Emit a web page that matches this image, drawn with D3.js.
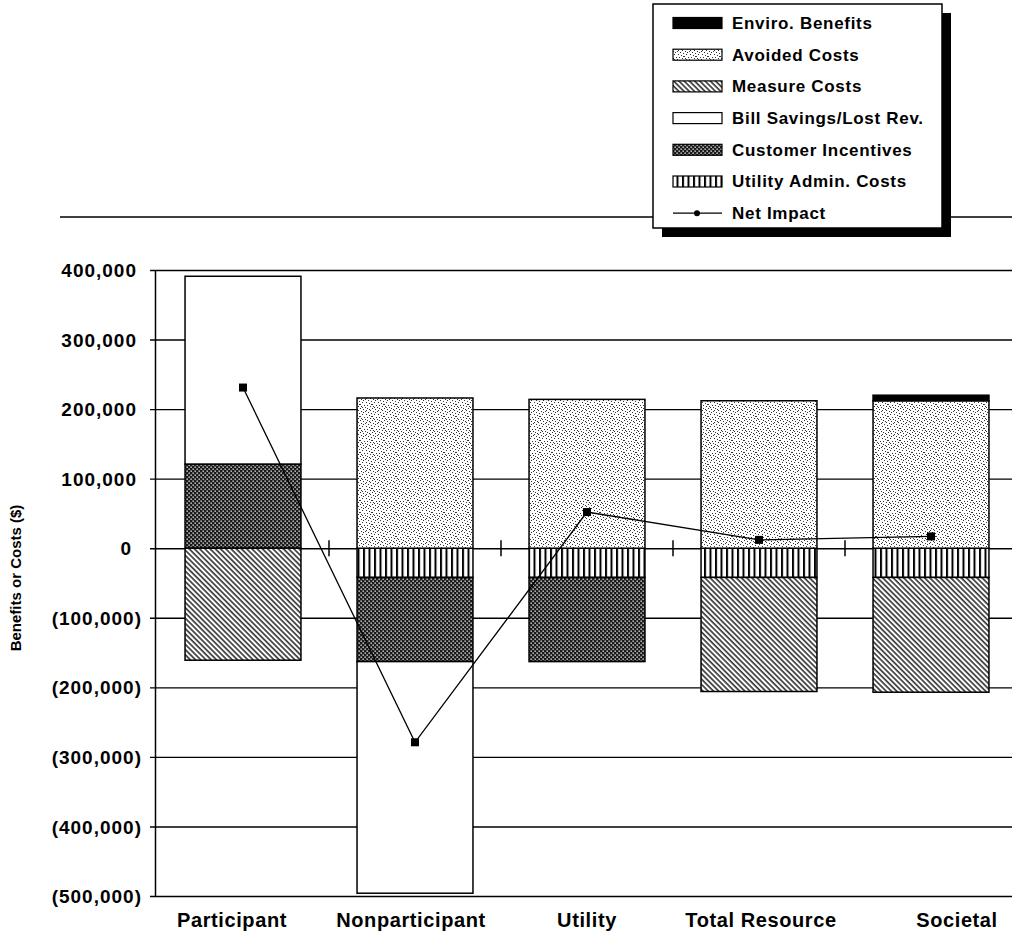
<!DOCTYPE html>
<html>
<head>
<meta charset="utf-8">
<script src="https://cdn.jsdelivr.net/npm/d3@7"></script>
<style>
  body { margin: 0; background: #fff; }
  svg { display: block; }
  text { font-family: "Liberation Sans", Arial, Helvetica, sans-serif; fill: #000; }
</style>
</head>
<body>
<svg id="chart" width="1012" height="941"></svg>
<script>
// ---- data: benefits positive, costs negative (dollars) ----
const categories = ["Participant", "Nonparticipant", "Utility", "Total Resource", "Societal"];
const enviroBenefits     = [0, 0, 0, 0, 8000];
const avoidedCosts       = [0, 216000, 214000, 212000, 212000];
const measureCosts       = [-161000, 0, 0, -164000, -165000];
const billSavings        = [270000, -333000, 0, 0, 0];
const customerIncentives = [121000, -121000, -121000, 0, 0];
const utilityAdminCosts  = [0, -42000, -42000, -42000, -42000];
const netImpact          = [231000, -279000, 52000, 12000, 17000];
const yTickValues = [400000, 300000, 200000, 100000, 0, -100000, -200000, -300000, -400000, -500000];

const seriesKeys   = ["admin", "incent", "measure", "bill", "avoided", "enviro"];
const legendOrder  = ["enviro", "avoided", "measure", "bill", "incent", "admin"];
const seriesLabels = {
  enviro: "Enviro. Benefits",
  avoided: "Avoided Costs",
  measure: "Measure Costs",
  bill: "Bill Savings/Lost Rev.",
  incent: "Customer Incentives",
  admin: "Utility Admin. Costs"
};

const table = categories.map((c, i) => ({
  category: c,
  admin: utilityAdminCosts[i],
  incent: customerIncentives[i],
  measure: measureCosts[i],
  bill: billSavings[i],
  avoided: avoidedCosts[i],
  enviro: enviroBenefits[i]
}));

const svg = d3.select("#chart");
const defs = svg.append("defs");

// ---- fill patterns ----
// stipple for avoided costs
const stipple = defs.append("pattern").attr("id", "p-avoided")
  .attr("patternUnits", "userSpaceOnUse").attr("width", 12).attr("height", 12);
stipple.append("rect").attr("width", 12).attr("height", 12).attr("fill", "#fff");
const dots = [[0,0],[3,1],[7,0],[10,2],[1,3],[5,3],[8,4],[11,5],[2,6],[6,6],[9,7],
              [0,8],[4,9],[7,9],[10,10],[2,11],[5,11],[3,4],[9,1],[6,2],[1,10],[11,8]];
dots.forEach(([dx, dy]) => stipple.append("rect")
  .attr("x", dx).attr("y", dy).attr("width", 1).attr("height", 1).attr("fill", "#333"));

// diagonal hatch for measure costs
const hatch = defs.append("pattern").attr("id", "p-measure")
  .attr("patternUnits", "userSpaceOnUse").attr("width", 3.7).attr("height", 10)
  .attr("patternTransform", "rotate(-45)");
hatch.append("rect").attr("width", 3.7).attr("height", 10).attr("fill", "#fff");
hatch.append("line").attr("x1", 1).attr("x2", 1).attr("y1", 0).attr("y2", 10)
  .attr("stroke", "#000").attr("stroke-width", 1.3);

// dense check for customer incentives
const check = defs.append("pattern").attr("id", "p-incent")
  .attr("patternUnits", "userSpaceOnUse").attr("width", 4).attr("height", 4);
check.append("rect").attr("width", 4).attr("height", 4).attr("fill", "#1a1a1a");
check.append("rect").attr("x", 0.5).attr("y", 0.5).attr("width", 1.3).attr("height", 1.3).attr("fill", "#fff");
check.append("rect").attr("x", 2.5).attr("y", 2.5).attr("width", 1.3).attr("height", 1.3).attr("fill", "#fff");

// vertical stripes for utility admin costs
const stripes = defs.append("pattern").attr("id", "p-admin")
  .attr("patternUnits", "userSpaceOnUse").attr("width", 5.5).attr("height", 10);
stripes.append("rect").attr("width", 5.5).attr("height", 10).attr("fill", "#fff");
stripes.append("rect").attr("x", 0).attr("width", 2).attr("height", 10).attr("fill", "#000");

const fills = {
  enviro: "#000",
  avoided: "url(#p-avoided)",
  measure: "url(#p-measure)",
  bill: "#fff",
  incent: "url(#p-incent)",
  admin: "url(#p-admin)"
};

// ---- scales ----
const x = d3.scaleBand().domain(categories).range([157, 1017])
  .paddingInner(0.326).paddingOuter(0.163);
const y = d3.scaleLinear().domain([-500000, 400000]).range([896, 270]);
const axisX = 155, rightEdge = 1012;

// decorative top rule
svg.append("line").attr("x1", 60).attr("x2", rightEdge).attr("y1", 217).attr("y2", 217)
  .attr("stroke", "#000").attr("stroke-width", 1.5);

// ---- gridlines + y axis ----
const fmt = v => v === 0 ? "0" : (v < 0 ? "(" + d3.format(",")(-v) + ")" : d3.format(",")(v));
const yAxis = d3.axisLeft(y).tickValues(yTickValues).tickFormat(fmt)
  .tickSize(-(rightEdge - axisX)).tickSizeOuter(0).tickPadding(0);
const gy = svg.append("g").attr("transform", `translate(${axisX},0)`).call(yAxis);
gy.select(".domain").attr("stroke", "#000").attr("stroke-width", 1.5);
gy.selectAll(".tick line").attr("stroke", "#000").attr("stroke-width", 1.4).attr("x1", -5);
gy.selectAll(".tick text")
  .attr("x", d => d === 0 ? -23 : (d < 0 ? -13 : -18))
  .attr("dy", "0.35em")
  .style("font-size", "19px").style("font-weight", "bold").style("letter-spacing", "1px");

// ---- stacked bars ----
const stacked = d3.stack().keys(seriesKeys).offset(d3.stackOffsetDiverging)(table);
const barsG = svg.append("g");
stacked.forEach(layer => {
  barsG.selectAll(null)
    .data(layer.filter(d => d[1] - d[0] !== 0))
    .join("rect")
    .attr("x", d => x(d.data.category))
    .attr("width", x.bandwidth())
    .attr("y", d => y(Math.max(d[0], d[1])))
    .attr("height", d => Math.abs(y(d[0]) - y(d[1])))
    .attr("fill", fills[layer.key])
    .attr("stroke", "#000")
    .attr("stroke-width", 1.5);
});

// ---- x axis ticks on the zero line, between categories ----
const boundaries = categories.slice(1).map(c => x(c) - x.step() * x.paddingInner() / 2);
svg.append("g").selectAll("line").data(boundaries).join("line")
  .attr("x1", d => d).attr("x2", d => d)
  .attr("y1", y(0) - 8).attr("y2", y(0) + 8)
  .attr("stroke", "#000").attr("stroke-width", 1.5);

// category labels
const labelShift = [-11, -4, 0, 2, 26];
svg.append("g").selectAll("text").data(categories).join("text")
  .attr("x", (d, i) => x(d) + x.bandwidth() / 2 + labelShift[i])
  .attr("y", 927)
  .attr("text-anchor", "middle")
  .style("font-size", "20px").style("font-weight", "bold").style("letter-spacing", "0.6px")
  .text(d => d);

// y axis title
svg.append("text")
  .attr("transform", "translate(21,578) rotate(-90)")
  .attr("text-anchor", "middle")
  .style("font-size", "15px").style("font-weight", "bold")
  .text("Benefits or Costs ($)");

// ---- net impact line ----
const cx = d => x(d) + x.bandwidth() / 2;
const linePts = categories.map((c, i) => [cx(c), y(netImpact[i])]);
svg.append("path").attr("d", d3.line()(linePts))
  .attr("fill", "none").attr("stroke", "#000").attr("stroke-width", 1.3);
svg.append("g").selectAll("rect").data(linePts).join("rect")
  .attr("x", d => d[0] - 4).attr("y", d => d[1] - 4)
  .attr("width", 8).attr("height", 8).attr("fill", "#000");

// ---- legend ----
const lg = svg.append("g");
const lx = 653, ly = 4, lw = 289, lh = 224;
lg.append("rect").attr("x", lx + 9).attr("y", ly + 9).attr("width", lw).attr("height", lh).attr("fill", "#000");
lg.append("rect").attr("x", lx).attr("y", ly).attr("width", lw).attr("height", lh)
  .attr("fill", "#fff").attr("stroke", "#000").attr("stroke-width", 1.5);

const rowY = i => 23 + i * 31.7;
const legendRows = legendOrder.map(k => ({ key: k, label: seriesLabels[k] }));
legendRows.forEach((r, i) => {
  lg.append("rect").attr("x", 673).attr("y", rowY(i) - 5.5).attr("width", 49).attr("height", 11)
    .attr("fill", fills[r.key]).attr("stroke", "#000").attr("stroke-width", 1.2);
  lg.append("text").attr("x", 732).attr("y", rowY(i)).attr("dy", "0.35em")
    .style("font-size", "17px").style("font-weight", "bold").style("letter-spacing", "0.7px")
    .text(r.label);
});
const ni = legendRows.length;
lg.append("line").attr("x1", 673).attr("x2", 722).attr("y1", rowY(ni)).attr("y2", rowY(ni))
  .attr("stroke", "#000").attr("stroke-width", 1.3);
lg.append("circle").attr("cx", 697).attr("cy", rowY(ni)).attr("r", 3).attr("fill", "#000");
lg.append("text").attr("x", 732).attr("y", rowY(ni)).attr("dy", "0.35em")
  .style("font-size", "17px").style("font-weight", "bold").style("letter-spacing", "0.7px")
  .text("Net Impact");
</script>
</body>
</html>
